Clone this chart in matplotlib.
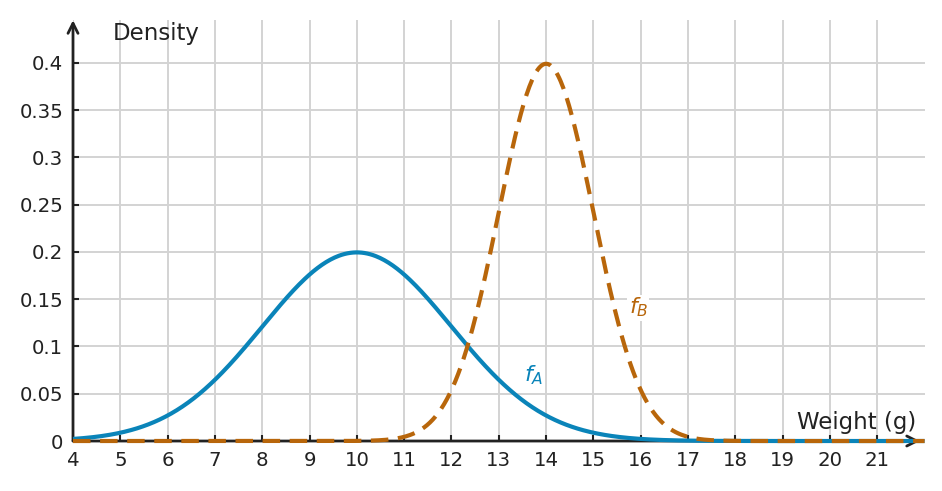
import numpy as np
import matplotlib
matplotlib.use("Agg")
import matplotlib.pyplot as plt

# distribution parameters (peak positions / heights)
means = [10, 14]
sds = [2, 1]
names = ["$f_A$", "$f_B$"]
colors = ["#0a84b9", "#b8660b"]

x_ticks = list(range(4, 22))
y_ticks = [0, 0.05, 0.1, 0.15, 0.2, 0.25, 0.3, 0.35, 0.4]
y_labels = ["0", "0.05", "0.1", "0.15", "0.2", "0.25", "0.3", "0.35", "0.4"]

xmin, xmax = 4, 22.0
ymin, ymax = 0, 0.445

fig = plt.figure(figsize=(9.42, 4.91), dpi=100)
ax = fig.add_axes([0.0775, 0.1018, 0.904, 0.857])

x = np.linspace(4, 22.0, 600)
for m, s, c, i in zip(means, sds, colors, range(2)):
    y = np.exp(-0.5 * ((x - m) / s) ** 2) / (s * np.sqrt(2 * np.pi))
    if i == 0:
        ax.plot(x, y, color=c, lw=3.0, zorder=4, clip_on=False, solid_capstyle="butt")
    else:
        ax.plot(x, y, color=c, lw=3.0, zorder=5, clip_on=False, dashes=(4.2, 2.3))

ax.set_xlim(xmin, xmax)
ax.set_ylim(ymin, ymax)
ax.set_xticks(x_ticks)
ax.set_xticklabels([str(t) for t in x_ticks])
ax.set_yticks(y_ticks)
ax.set_yticklabels(y_labels)
ax.tick_params(direction="in", length=4, width=1.5, color="#222222",
               labelsize=14.2, labelcolor="#222222", pad=7)

ax.grid(True, color="#d3d3d3", lw=1.4, zorder=0)
ax.set_axisbelow(True)
for sp in ax.spines.values():
    sp.set_visible(False)

# axis arrows
ax.annotate("", xy=(21.9, 0), xytext=(4, 0),
            arrowprops=dict(arrowstyle="->", lw=2, color="#222222",
                            shrinkA=0, shrinkB=0, mutation_scale=18), zorder=3)
ax.annotate("", xy=(4, 0.445), xytext=(4, 0),
            arrowprops=dict(arrowstyle="->", lw=2, color="#222222",
                            shrinkA=0, shrinkB=0, mutation_scale=18), zorder=3)

ax.text(4.85, 0.431, "Density", fontsize=16.5, color="#222222", va="center", ha="left")
ax.text(21.82, 0.02, "Weight (g)", fontsize=16.5, color="#222222", va="center", ha="right")

label_pos = [(13.73, 0.070), (15.95, 0.141)]
for (lx, ly), n, c in zip(label_pos, names, colors):
    ax.text(lx, ly, n, fontsize=16, color=c, ha="center", va="center", zorder=6,
            bbox=dict(facecolor="white", edgecolor="none", pad=1))

fig.savefig("out.png", dpi=100)
